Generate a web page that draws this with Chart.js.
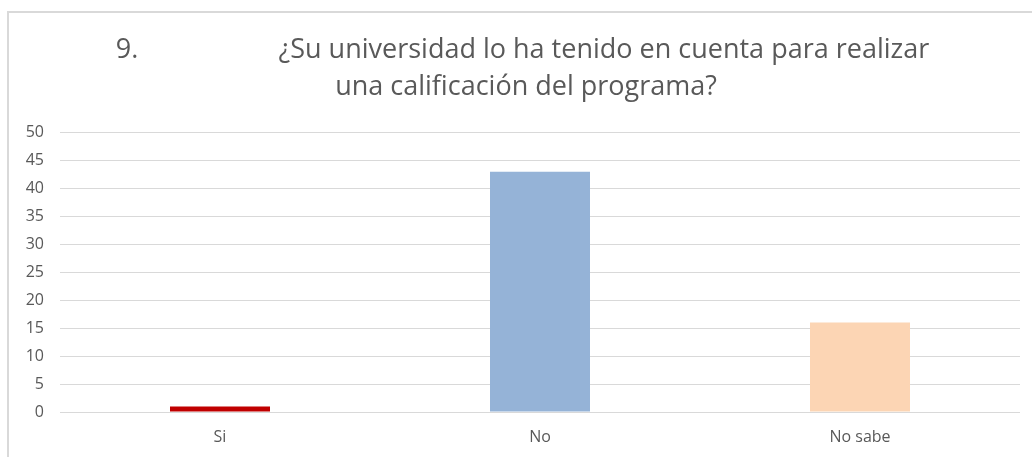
<!DOCTYPE html>
<html>
<head>
<meta charset="utf-8">
<script src="https://cdn.jsdelivr.net/npm/chart.js@4"></script>
<style>
  html, body { margin: 0; padding: 0; background: #fff; overflow: hidden; }
  #frame { position: absolute; left: 7px; top: 11px; width: 1100px; height: 500px;
           border-left: 2px solid #d9d9d9; border-top: 2px solid #d9d9d9; }
  #wrap { position: absolute; left: 0; top: 0; width: 1032px; height: 457px; }
</style>
</head>
<body>
<div id="frame"></div>
<div id="wrap"><canvas id="c" width="1032" height="457"></canvas></div>
<script>
const categories = ["Si", "No", "No sabe"];
const values = [1, 43, 16];
const barColors = ["#C00000", "#95B3D7", "#FCD5B4"];
const titleLines = [" 9.                    ¿Su universidad lo ha tenido en cuenta para realizar", "  una calificación del programa?"];
const yTicks = [0, 5, 10, 15, 20, 25, 30, 35, 40, 45, 50];

new Chart(document.getElementById('c'), {
  type: 'bar',
  data: {
    labels: categories,
    datasets: [{
      data: values,
      backgroundColor: barColors,
      borderWidth: 0,
      categoryPercentage: 1.0,
      barPercentage: 0.3125
    }]
  },
  options: {
    responsive: false,
    animation: false,
    devicePixelRatio: 1,
    layout: { padding: { left: 18, right: 12, top: 0, bottom: 0 } },
    plugins: {
      legend: { display: false },
      tooltip: { enabled: false },
      title: {
        display: true,
        text: titleLines,
        color: '#595959',
        font: { family: 'Open Sans', size: 27, weight: 'normal', lineHeight: 1.4 },
        padding: { top: 31, bottom: 26 }
      }
    },
    scales: {
      x: {
        afterFit: (s) => { s.height = 45; },
        grid: { display: false, drawTicks: false },
        border: { display: false },
        ticks: { color: '#595959', font: { family: 'Open Sans', size: 16 }, padding: 16 }
      },
      y: {
        min: 0, max: 50,
        afterBuildTicks: (s) => { s.ticks = yTicks.map(v => ({ value: v })); },
        afterFit: (s) => { s.width = 42; },
        grid: { color: '#d9d9d9', lineWidth: 1, drawTicks: false },
        border: { display: false },
        ticks: { color: '#595959', font: { family: 'Open Sans', size: 16 }, padding: 16 }
      }
    }
  }
});
</script>
</body>
</html>
